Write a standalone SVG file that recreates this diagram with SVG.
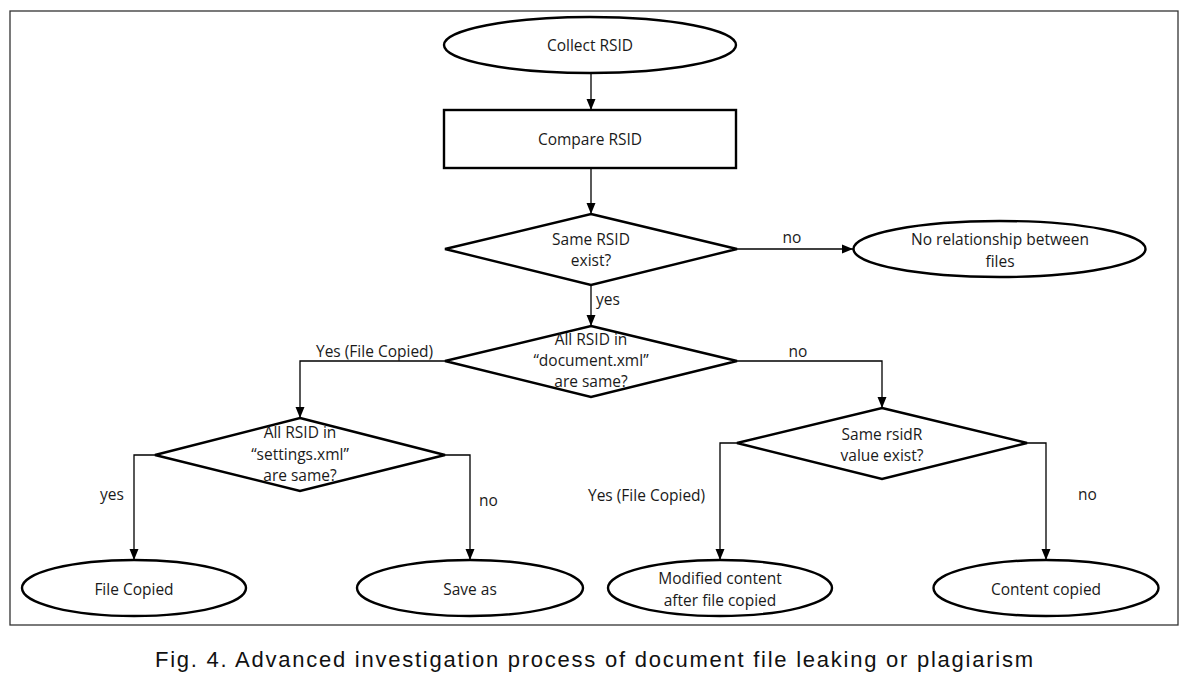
<svg xmlns="http://www.w3.org/2000/svg" width="1197" height="677" viewBox="0 0 1197 677">
<style>
  .shape { fill: #ffffff; stroke: #000000; stroke-width: 2.4; }
  .conn { fill: none; stroke: #000000; stroke-width: 1.3; }
  .t { font-family: "Open Sans", "Noto Sans", sans-serif; font-size: 15.5px; fill: #1a1a1a; text-anchor: middle; }
  .lbl { font-family: "Open Sans", "Noto Sans", sans-serif; font-size: 15.5px; fill: #1a1a1a; }
  .cap { font-family: "Liberation Sans", "Noto Sans CJK KR", sans-serif; font-size: 22px; fill: #111111; }
</style>
<defs>
  <marker id="arr" markerUnits="userSpaceOnUse" markerWidth="11" markerHeight="11" refX="11" refY="5.5" orient="auto">
    <path d="M0,1 L11,5.5 L0,10 z" fill="#000000"/>
  </marker>
</defs>
<rect x="0" y="0" width="1197" height="677" fill="#ffffff"/>
<rect x="10" y="11" width="1168" height="614" fill="none" stroke="#333333" stroke-width="1.3"/>

<g id="connectors">
  <path class="conn" d="M591,73 L591,110" marker-end="url(#arr)"/>
  <path class="conn" d="M591,168 L591,214" marker-end="url(#arr)"/>
  <path class="conn" d="M737,249 L853,249" marker-end="url(#arr)"/>
  <path class="conn" d="M591,285 L591,326" marker-end="url(#arr)"/>
  <path class="conn" d="M445,361 L300,361 L300,418" marker-end="url(#arr)"/>
  <path class="conn" d="M737,361 L882,361 L882,408" marker-end="url(#arr)"/>
  <path class="conn" d="M155,455 L134,455 L134,560" marker-end="url(#arr)"/>
  <path class="conn" d="M445,455 L470,455 L470,560" marker-end="url(#arr)"/>
  <path class="conn" d="M737,443 L720,443 L720,560" marker-end="url(#arr)"/>
  <path class="conn" d="M1027,443 L1046,443 L1046,560" marker-end="url(#arr)"/>
  <text class="lbl" x="792" y="243" text-anchor="middle">no</text>
  <text class="lbl" x="596" y="305">yes</text>
  <text class="lbl" x="316" y="357">Yes (File Copied)</text>
  <text class="lbl" x="798" y="357" text-anchor="middle">no</text>
  <text class="lbl" x="100" y="500">yes</text>
  <text class="lbl" x="479" y="506">no</text>
  <text class="lbl" x="588" y="501">Yes (File Copied)</text>
  <text class="lbl" x="1078" y="500">no</text>
</g>

<g id="collect-rsid">
  <ellipse class="shape" cx="590" cy="45" rx="146" ry="28"/>
  <text class="t" x="590" y="51">Collect RSID</text>
</g>
<g id="compare-rsid">
  <rect class="shape" x="444" y="110" width="292" height="58"/>
  <text class="t" x="590" y="145">Compare RSID</text>
</g>
<g id="same-rsid">
  <polygon class="shape" points="591,214 737,249 591,285 445,249"/>
  <text class="t" x="591" y="245">Same RSID</text>
  <text class="t" x="591" y="266">exist?</text>
</g>
<g id="no-relationship">
  <ellipse class="shape" cx="999.5" cy="249" rx="146" ry="28"/>
  <text class="t" x="1000" y="245">No relationship between</text>
  <text class="t" x="1000" y="267">files</text>
</g>
<g id="document-xml">
  <polygon class="shape" points="591,326 737,361 591,397 445,361"/>
  <text class="t" x="591" y="345">All RSID in</text>
  <text class="t" x="591" y="366">“document.xml”</text>
  <text class="t" x="591" y="387">are same?</text>
</g>
<g id="settings-xml">
  <polygon class="shape" points="300,418 445,455 300,491 155,455"/>
  <text class="t" x="300" y="438">All RSID in</text>
  <text class="t" x="300" y="460">“settings.xml”</text>
  <text class="t" x="300" y="481">are same?</text>
</g>
<g id="same-rsidr">
  <polygon class="shape" points="882,408 1027,443 882,479 737,443"/>
  <text class="t" x="882" y="440">Same rsidR</text>
  <text class="t" x="882" y="461">value exist?</text>
</g>
<g id="file-copied">
  <ellipse class="shape" cx="134" cy="588" rx="112" ry="28"/>
  <text class="t" x="134" y="595">File Copied</text>
</g>
<g id="save-as">
  <ellipse class="shape" cx="470" cy="588" rx="113" ry="28"/>
  <text class="t" x="470" y="595">Save as</text>
</g>
<g id="modified-content">
  <ellipse class="shape" cx="720" cy="588" rx="112" ry="28"/>
  <text class="t" x="720" y="584">Modified content</text>
  <text class="t" x="720" y="606">after file copied</text>
</g>
<g id="content-copied">
  <ellipse class="shape" cx="1046" cy="588" rx="112.5" ry="28"/>
  <text class="t" x="1046" y="595">Content copied</text>
</g>

<text class="cap" x="155" y="667" textLength="878" lengthAdjust="spacing">Fig. 4. Advanced investigation process of document file leaking or plagiarism</text>
</svg>
